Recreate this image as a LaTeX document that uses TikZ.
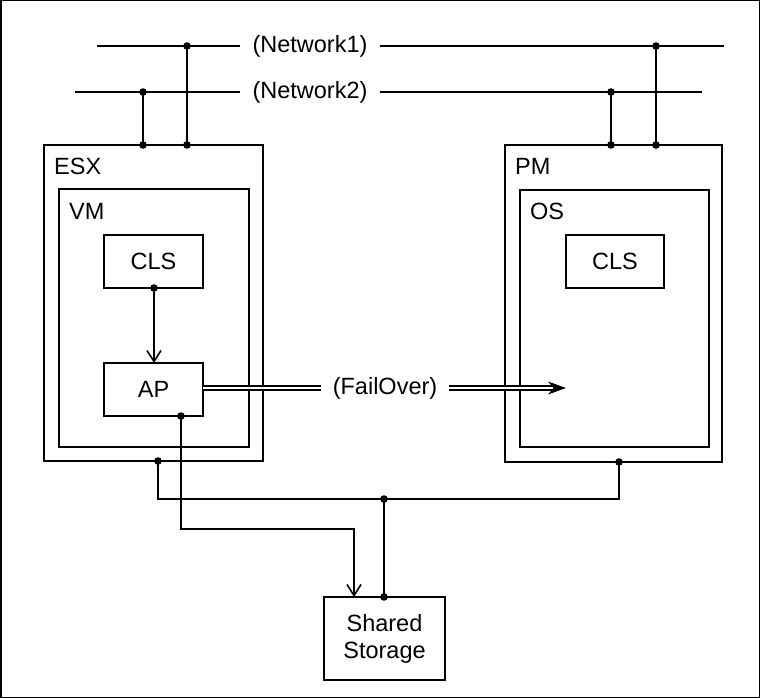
\documentclass[tikz,border=0pt]{standalone}
\usepackage{fontspec}
\setmainfont{Liberation Sans}
\usetikzlibrary{arrows.meta,calc}
\begin{document}
\begin{tikzpicture}[x=1pt,y=-1pt,
  every node/.style={font=\fontsize{23.5}{27}\selectfont},
  ln/.style={line width=1.6pt},
  box/.style={draw,line width=1.6pt,inner sep=0pt,outer sep=0pt,anchor=north west,align=center},
  lbl/.style={anchor=base west,inner sep=0pt},
  net/.style={inner xsep=12pt,inner ysep=0pt},
  barb/.style={-{Straight Barb[length=11pt,width=14pt,line width=1.6pt]}},
  dot/.style={fill=black},
  dbl/.style={line width=1.5pt,double,double distance=2.2pt}]
\useasboundingbox (0,0) rectangle (760,698);
\draw[line width=1.5pt] (0.75,0.75) rectangle (759.25,697.25);

% boxes
\node[box,minimum width=219pt,minimum height=316pt] (esx) at (44,145) {};
\node[box,minimum width=190pt,minimum height=258pt] (vm) at (59,189) {};
\node[box,minimum width=99pt,minimum height=53pt] (cls1) at (104,235) {CLS};
\node[box,minimum width=99pt,minimum height=53pt] (ap) at (104,363) {AP};
\node[box,minimum width=217pt,minimum height=317pt] (pm) at (505,145) {};
\node[box,minimum width=189pt,minimum height=257pt] (os) at (520,190) {};
\node[box,minimum width=98pt,minimum height=53pt] (cls2) at (566,235) {CLS};
\node[box,minimum width=121pt,minimum height=83pt] (ss) at (324,597) {Shared\\Storage};

% labels
\node[lbl] (esxl) at (54,174) {ESX};
\node[lbl] (vml) at (69,219) {VM};
\node[lbl] (pml) at (515,174) {PM};
\node[lbl] (osl) at (530,219) {OS};

% networks
\node[net] (net1) at (310,46) {(Network1)};
\node[net] (net2) at (310,92) {(Network2)};
\coordinate (n1a) at (97,46);  \coordinate (n1b) at (724,46);
\coordinate (n2a) at (75,92);  \coordinate (n2b) at (702,92);
\draw[ln] (n1a) -- (net1.west) (net1.east) -- (n1b);
\draw[ln] (n2a) -- (net2.west) (net2.east) -- (n2b);

\coordinate (e1t) at (187,46);  \coordinate (e1b) at (187,145);
\coordinate (e2t) at (143,92);  \coordinate (e2b) at (143,145);
\coordinate (p1t) at (656,46);  \coordinate (p1b) at (656,145);
\coordinate (p2t) at (611,92);  \coordinate (p2b) at (611,145);
\draw[ln] (e1t) -- (e1b) (e2t) -- (e2b) (p1t) -- (p1b) (p2t) -- (p2b);
\foreach \c in {e1t,e1b,e2t,e2b,p1t,p1b,p2t,p2b} \fill[dot] (\c) circle (3.8pt);

% CLS -> AP
\coordinate (clsb) at (cls1.south -| 154,0);
\draw[ln,barb] (clsb) -- (clsb |- ap.north);
\fill[dot] (clsb) circle (3.8pt);

% FailOver
\node[inner xsep=12pt,inner ysep=0pt] (fo) at (385,388) {(FailOver)};
\coordinate (ft) at (566,388);
\draw[dbl] (ap.east |- fo) -- (fo.west);
\draw[dbl] (fo.east) -- ($(ft)+(-12,0)$);
\fill (ft) -- ++(-18,-6.5) -- ++(5.5,6.5) -- ++(-5.5,6.5) -- cycle;

% storage connections
\coordinate (eb) at (158,461);
\coordinate (pb) at (619,462);
\coordinate (jn) at (384,499);
\draw[ln] (eb) |- (jn) -| (pb);
\draw[ln] (jn) -- (jn |- ss.north);
\foreach \c in {eb,pb,jn} \fill[dot] (\c) circle (3.8pt);
\fill[dot] (jn |- ss.north) circle (3.8pt);

\coordinate (apb) at (181,416);
\coordinate (a1) at (354,529);
\draw[ln,barb] (apb) |- (a1) -- (a1 |- ss.north);
\fill[dot] (apb) circle (3.8pt);
\end{tikzpicture}
\end{document}
